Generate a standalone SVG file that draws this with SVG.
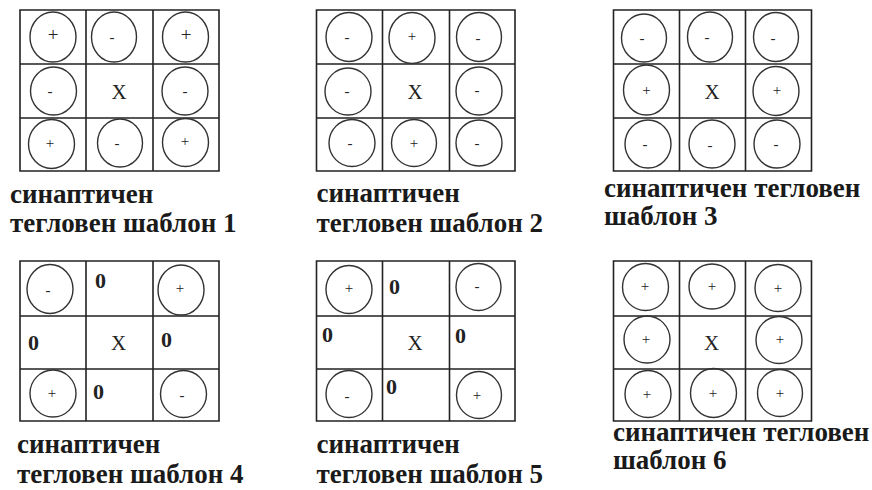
<svg xmlns="http://www.w3.org/2000/svg" width="872" height="490" viewBox="0 0 872 490" font-family="'Liberation Serif', 'DejaVu Serif', serif">
<style>
text{font-family:"Liberation Serif","DejaVu Serif",serif}
.grid{fill:none;stroke:#222;stroke-width:1.6}
.c{fill:none;stroke:#333;stroke-width:1.4}
.s{font-size:15px;fill:#222;text-anchor:middle}
.x{font-size:21px;fill:#222;text-anchor:middle}
.z{font-size:22px;font-weight:bold;fill:#222}
.lbl{font-size:27px;font-weight:bold;fill:#1a1a1a}
</style>
<rect width="872" height="490" fill="#fff"/>

<g id="template1">
<path class="grid" d="M20 10H219V171H20Z M86 10V171 M153 10V171 M20 64H219 M20 118H219"/>
<ellipse class="c" cx="53" cy="37" rx="23" ry="25"/>
<ellipse class="c" cx="114" cy="37" rx="22.5" ry="25"/>
<ellipse class="c" cx="185.5" cy="37" rx="23" ry="25"/>
<ellipse class="c" cx="53.5" cy="91" rx="23" ry="24"/>
<ellipse class="c" cx="185" cy="91" rx="23" ry="24"/>
<ellipse class="c" cx="51.5" cy="144" rx="23" ry="24.5"/>
<ellipse class="c" cx="120" cy="143" rx="22.5" ry="24"/>
<ellipse class="c" cx="185.5" cy="142.5" rx="23" ry="24"/>
<text class="s" x="53" y="41" style="font-size:19px">+</text>
<text class="s" x="112" y="42">-</text>
<text class="s" x="186" y="41" style="font-size:19px">+</text>
<text class="s" x="50" y="96">-</text>
<text class="s" x="185" y="96">-</text>
<text class="s" x="50" y="148">+</text>
<text class="s" x="117" y="148">-</text>
<text class="s" x="185" y="146">+</text>
<text class="x" x="119" y="99">X</text>
<text class="lbl" x="10" y="203">синаптичен</text>
<text class="lbl" x="10" y="232">тегловен шаблон 1</text>
</g>

<g id="template2">
<path class="grid" d="M316.5 10H515V171H316.5Z M382.5 10V171 M449.5 10V171 M316.5 64H515 M316.5 118H515"/>
<ellipse class="c" cx="349" cy="37" rx="23" ry="24.5"/>
<ellipse class="c" cx="412" cy="38" rx="23" ry="25.5"/>
<ellipse class="c" cx="479" cy="37" rx="22.5" ry="24.5"/>
<ellipse class="c" cx="348" cy="91.5" rx="23" ry="23.5"/>
<ellipse class="c" cx="479" cy="91" rx="23" ry="24"/>
<ellipse class="c" cx="352" cy="143" rx="23" ry="23.5"/>
<ellipse class="c" cx="414" cy="143" rx="22.5" ry="23.5"/>
<ellipse class="c" cx="479" cy="143" rx="23" ry="23"/>
<text class="s" x="347" y="42">-</text>
<text class="s" x="412" y="41">+</text>
<text class="s" x="478" y="43">-</text>
<text class="s" x="347" y="96">-</text>
<text class="s" x="477" y="95">-</text>
<text class="s" x="350" y="148">-</text>
<text class="s" x="414" y="148">+</text>
<text class="s" x="477" y="148">-</text>
<text class="x" x="415" y="99">X</text>
<text class="lbl" x="316.5" y="202">синаптичен</text>
<text class="lbl" x="316.5" y="232">тегловен шаблон 2</text>
</g>

<g id="template3">
<path class="grid" d="M613.5 10H811.5V171H613.5Z M679.5 10V171 M745.5 10V171 M613.5 64H811.5 M613.5 118H811.5"/>
<ellipse class="c" cx="644" cy="38" rx="22.5" ry="24"/>
<ellipse class="c" cx="710" cy="37" rx="22.5" ry="25"/>
<ellipse class="c" cx="776" cy="37" rx="22.5" ry="24.5"/>
<ellipse class="c" cx="646.5" cy="90" rx="23" ry="25"/>
<ellipse class="c" cx="776" cy="91" rx="23" ry="24.5"/>
<ellipse class="c" cx="648" cy="144" rx="23" ry="24"/>
<ellipse class="c" cx="712" cy="144" rx="23" ry="24"/>
<ellipse class="c" cx="777" cy="144" rx="23" ry="24"/>
<text class="s" x="642" y="43">-</text>
<text class="s" x="707" y="42">-</text>
<text class="s" x="773" y="43">-</text>
<text class="s" x="646.5" y="95">+</text>
<text class="s" x="777" y="95">+</text>
<text class="s" x="645" y="149">-</text>
<text class="s" x="710" y="150">-</text>
<text class="s" x="776" y="149">-</text>
<text class="x" x="712" y="99">X</text>
<text class="lbl" x="604" y="197">синаптичен тегловен</text>
<text class="lbl" x="604" y="225">шаблон 3</text>
</g>

<g id="template4">
<path class="grid" d="M20 261H219V421H20Z M86 261V421 M153 261V421 M20 316H219 M20 369H219"/>
<ellipse class="c" cx="50" cy="289" rx="23" ry="24.5"/>
<ellipse class="c" cx="181" cy="290" rx="23" ry="25"/>
<ellipse class="c" cx="53" cy="393.5" rx="23" ry="23.5"/>
<ellipse class="c" cx="183.5" cy="394" rx="23" ry="23.5"/>
<text class="s" x="48" y="295">-</text>
<text class="s" x="180" y="293">+</text>
<text class="s" x="52" y="398">+</text>
<text class="s" x="182" y="400">-</text>
<text class="z" x="95" y="288">0</text>
<text class="z" x="28" y="350">0</text>
<text class="z" x="161" y="347">0</text>
<text class="z" x="93" y="399">0</text>
<text class="x" x="118.5" y="350">X</text>
<text class="lbl" x="17" y="453">синаптичен</text>
<text class="lbl" x="17" y="483">тегловен шаблон 4</text>
</g>

<g id="template5">
<path class="grid" d="M316.5 261H515V421H316.5Z M382.5 261V421 M449.5 261V421 M316.5 316H515 M316.5 369H515"/>
<ellipse class="c" cx="349" cy="289.5" rx="23" ry="24"/>
<ellipse class="c" cx="478.5" cy="287" rx="22.5" ry="23.5"/>
<ellipse class="c" cx="349" cy="394" rx="23" ry="23.5"/>
<ellipse class="c" cx="479" cy="395" rx="22.5" ry="23.5"/>
<text class="s" x="349" y="293">+</text>
<text class="s" x="477" y="291">-</text>
<text class="s" x="347" y="401">-</text>
<text class="s" x="477" y="400">+</text>
<text class="z" x="389" y="294">0</text>
<text class="z" x="322" y="342">0</text>
<text class="z" x="455" y="343">0</text>
<text class="z" x="386" y="394">0</text>
<text class="x" x="415" y="350">X</text>
<text class="lbl" x="316.5" y="453">синаптичен</text>
<text class="lbl" x="316.5" y="483">тегловен шаблон 5</text>
</g>

<g id="template6">
<path class="grid" d="M613.5 261H811.5V421H613.5Z M679.5 261V421 M745.5 261V421 M613.5 316H811.5 M613.5 369H811.5"/>
<ellipse class="c" cx="645.5" cy="287" rx="23" ry="23.5"/>
<ellipse class="c" cx="712" cy="286.5" rx="23" ry="22.5"/>
<ellipse class="c" cx="778" cy="288" rx="23" ry="23.5"/>
<ellipse class="c" cx="647" cy="339.5" rx="23" ry="23.5"/>
<ellipse class="c" cx="779" cy="340" rx="23" ry="23.5"/>
<ellipse class="c" cx="648" cy="394" rx="23" ry="23.5"/>
<ellipse class="c" cx="713.5" cy="393" rx="23" ry="24.5"/>
<ellipse class="c" cx="780" cy="393" rx="22.5" ry="23.5"/>
<text class="s" x="645" y="291">+</text>
<text class="s" x="712" y="291">+</text>
<text class="s" x="778" y="293">+</text>
<text class="s" x="646" y="344">+</text>
<text class="s" x="780" y="344">+</text>
<text class="s" x="647" y="399">+</text>
<text class="s" x="713" y="398">+</text>
<text class="s" x="780" y="398">+</text>
<text class="x" x="711.5" y="350">X</text>
<text class="lbl" x="613" y="441">синаптичен тегловен</text>
<text class="lbl" x="613" y="469">шаблон 6</text>
</g>
</svg>
